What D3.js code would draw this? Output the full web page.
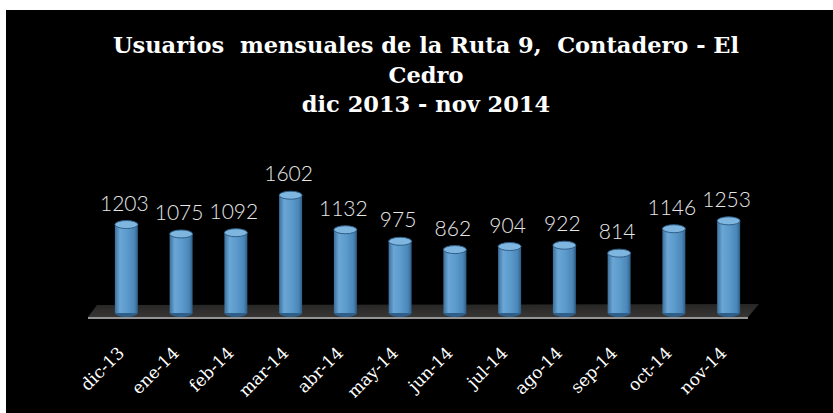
<!DOCTYPE html>
<html>
<head>
<meta charset="utf-8">
<script src="https://cdn.jsdelivr.net/npm/d3@7"></script>
<style>
  body { margin: 0; background: #fff; }
  svg { display: block; }
</style>
</head>
<body>
<div id="chart"></div>
<script>
  // data
  const months = ["dic-13", "ene-14", "feb-14", "mar-14", "abr-14", "may-14",
    "jun-14", "jul-14", "ago-14", "sep-14", "oct-14", "nov-14"];
  const users = [1203, 1075, 1092, 1602, 1132, 975, 862, 904, 922, 814, 1146, 1253];
  const titleLines = ["Usuarios  mensuales de la Ruta 9,  Contadero - El", "Cedro", "dic 2013 - nov 2014"];

  const width = 833, height = 413;
  const svg = d3.select("#chart").append("svg")
    .attr("width", width).attr("height", height);

  // black chart area
  svg.append("rect").attr("x", 6).attr("y", 10)
    .attr("width", width - 6).attr("height", height - 10).attr("fill", "#000");

  const defs = svg.append("defs");
  const barGrad = defs.append("linearGradient").attr("id", "barGrad")
    .attr("x1", 0).attr("x2", 1).attr("y1", 0).attr("y2", 0);
  barGrad.append("stop").attr("offset", "0%").attr("stop-color", "#3b6f9b");
  barGrad.append("stop").attr("offset", "22%").attr("stop-color", "#6aa6d6");
  barGrad.append("stop").attr("offset", "55%").attr("stop-color", "#5b9acb");
  barGrad.append("stop").attr("offset", "85%").attr("stop-color", "#4b86b8");
  barGrad.append("stop").attr("offset", "100%").attr("stop-color", "#2e5d85");

  const floorGrad = defs.append("linearGradient").attr("id", "floorGrad")
    .attr("x1", 0).attr("x2", 0).attr("y1", 0).attr("y2", 1);
  floorGrad.append("stop").attr("offset", "0%").attr("stop-color", "#262626");
  floorGrad.append("stop").attr("offset", "100%").attr("stop-color", "#383634");

  const x = d3.scalePoint().domain(months).range([99, 756]).padding(0.5);
  const y = d3.scaleLinear().domain([0, 1700]).range([313, 188]);
  const barW = x.step() * 0.42;

  // title
  const title = svg.append("text")
    .attr("text-anchor", "middle")
    .attr("font-family", "'DejaVu Serif', serif")
    .attr("font-weight", "bold")
    .attr("font-size", 22.5)
    .style("white-space", "pre")
    .attr("fill", "#fff");
  titleLines.forEach((t, i) => {
    title.append("tspan").attr("x", 426).attr("y", 53 + i * 29.5).text(t);
  });

  // floor
  const [r0, r1] = x.range();
  const floorPts = [[r0 - 2, 305], [r1 + 3, 304], [r1 - 8, 317], [r0 - 11, 317]];
  svg.append("polygon")
    .attr("points", floorPts.map((p) => p.join(",")).join(" "))
    .attr("fill", "url(#floorGrad)");
  svg.append("line")
    .attr("x1", r0 - 11).attr("x2", r1 - 8)
    .attr("y1", 318).attr("y2", 318)
    .attr("stroke", "#959595").attr("stroke-width", 2);

  const data = months.map((m, i) => ({ month: m, value: users[i] }));
  const bars = svg.append("g").selectAll("g").data(data).join("g");

  const ry = 4;
  // bottom ellipse
  bars.append("ellipse")
    .attr("cx", (d) => x(d.month)).attr("cy", y(0))
    .attr("rx", barW / 2).attr("ry", ry)
    .attr("fill", "#2f5f88");
  // body
  bars.append("rect")
    .attr("x", (d) => x(d.month) - barW / 2)
    .attr("y", (d) => y(d.value))
    .attr("width", barW)
    .attr("height", (d) => y(0) - y(d.value))
    .attr("fill", "url(#barGrad)");
  // top cap
  bars.append("ellipse")
    .attr("cx", (d) => x(d.month)).attr("cy", (d) => y(d.value))
    .attr("rx", barW / 2).attr("ry", ry)
    .attr("fill", "#7fb6e0")
    .attr("stroke", "#2f5f88").attr("stroke-width", 1);

  // value labels
  svg.append("g").selectAll("text").data(data).join("text")
    .attr("x", (d) => x(d.month) - 2)
    .attr("y", (d) => y(d.value) - 14)
    .attr("text-anchor", "middle")
    .attr("font-family", "Lato, sans-serif")
    .attr("font-weight", 300)
    .attr("font-size", 21)
    .attr("fill", "#e6e6e6")
    .text((d) => d.value);

  // category labels
  svg.append("g").selectAll("text").data(months).join("text")
    .attr("transform", (d) => "translate(" + (x(d) - 1) + ",354)rotate(-45)")
    .attr("text-anchor", "end")
    .attr("font-family", "'DejaVu Serif', serif")
    .attr("font-size", 17)
    .attr("fill", "#fff")
    .text((d) => d);
</script>
</body>
</html>
